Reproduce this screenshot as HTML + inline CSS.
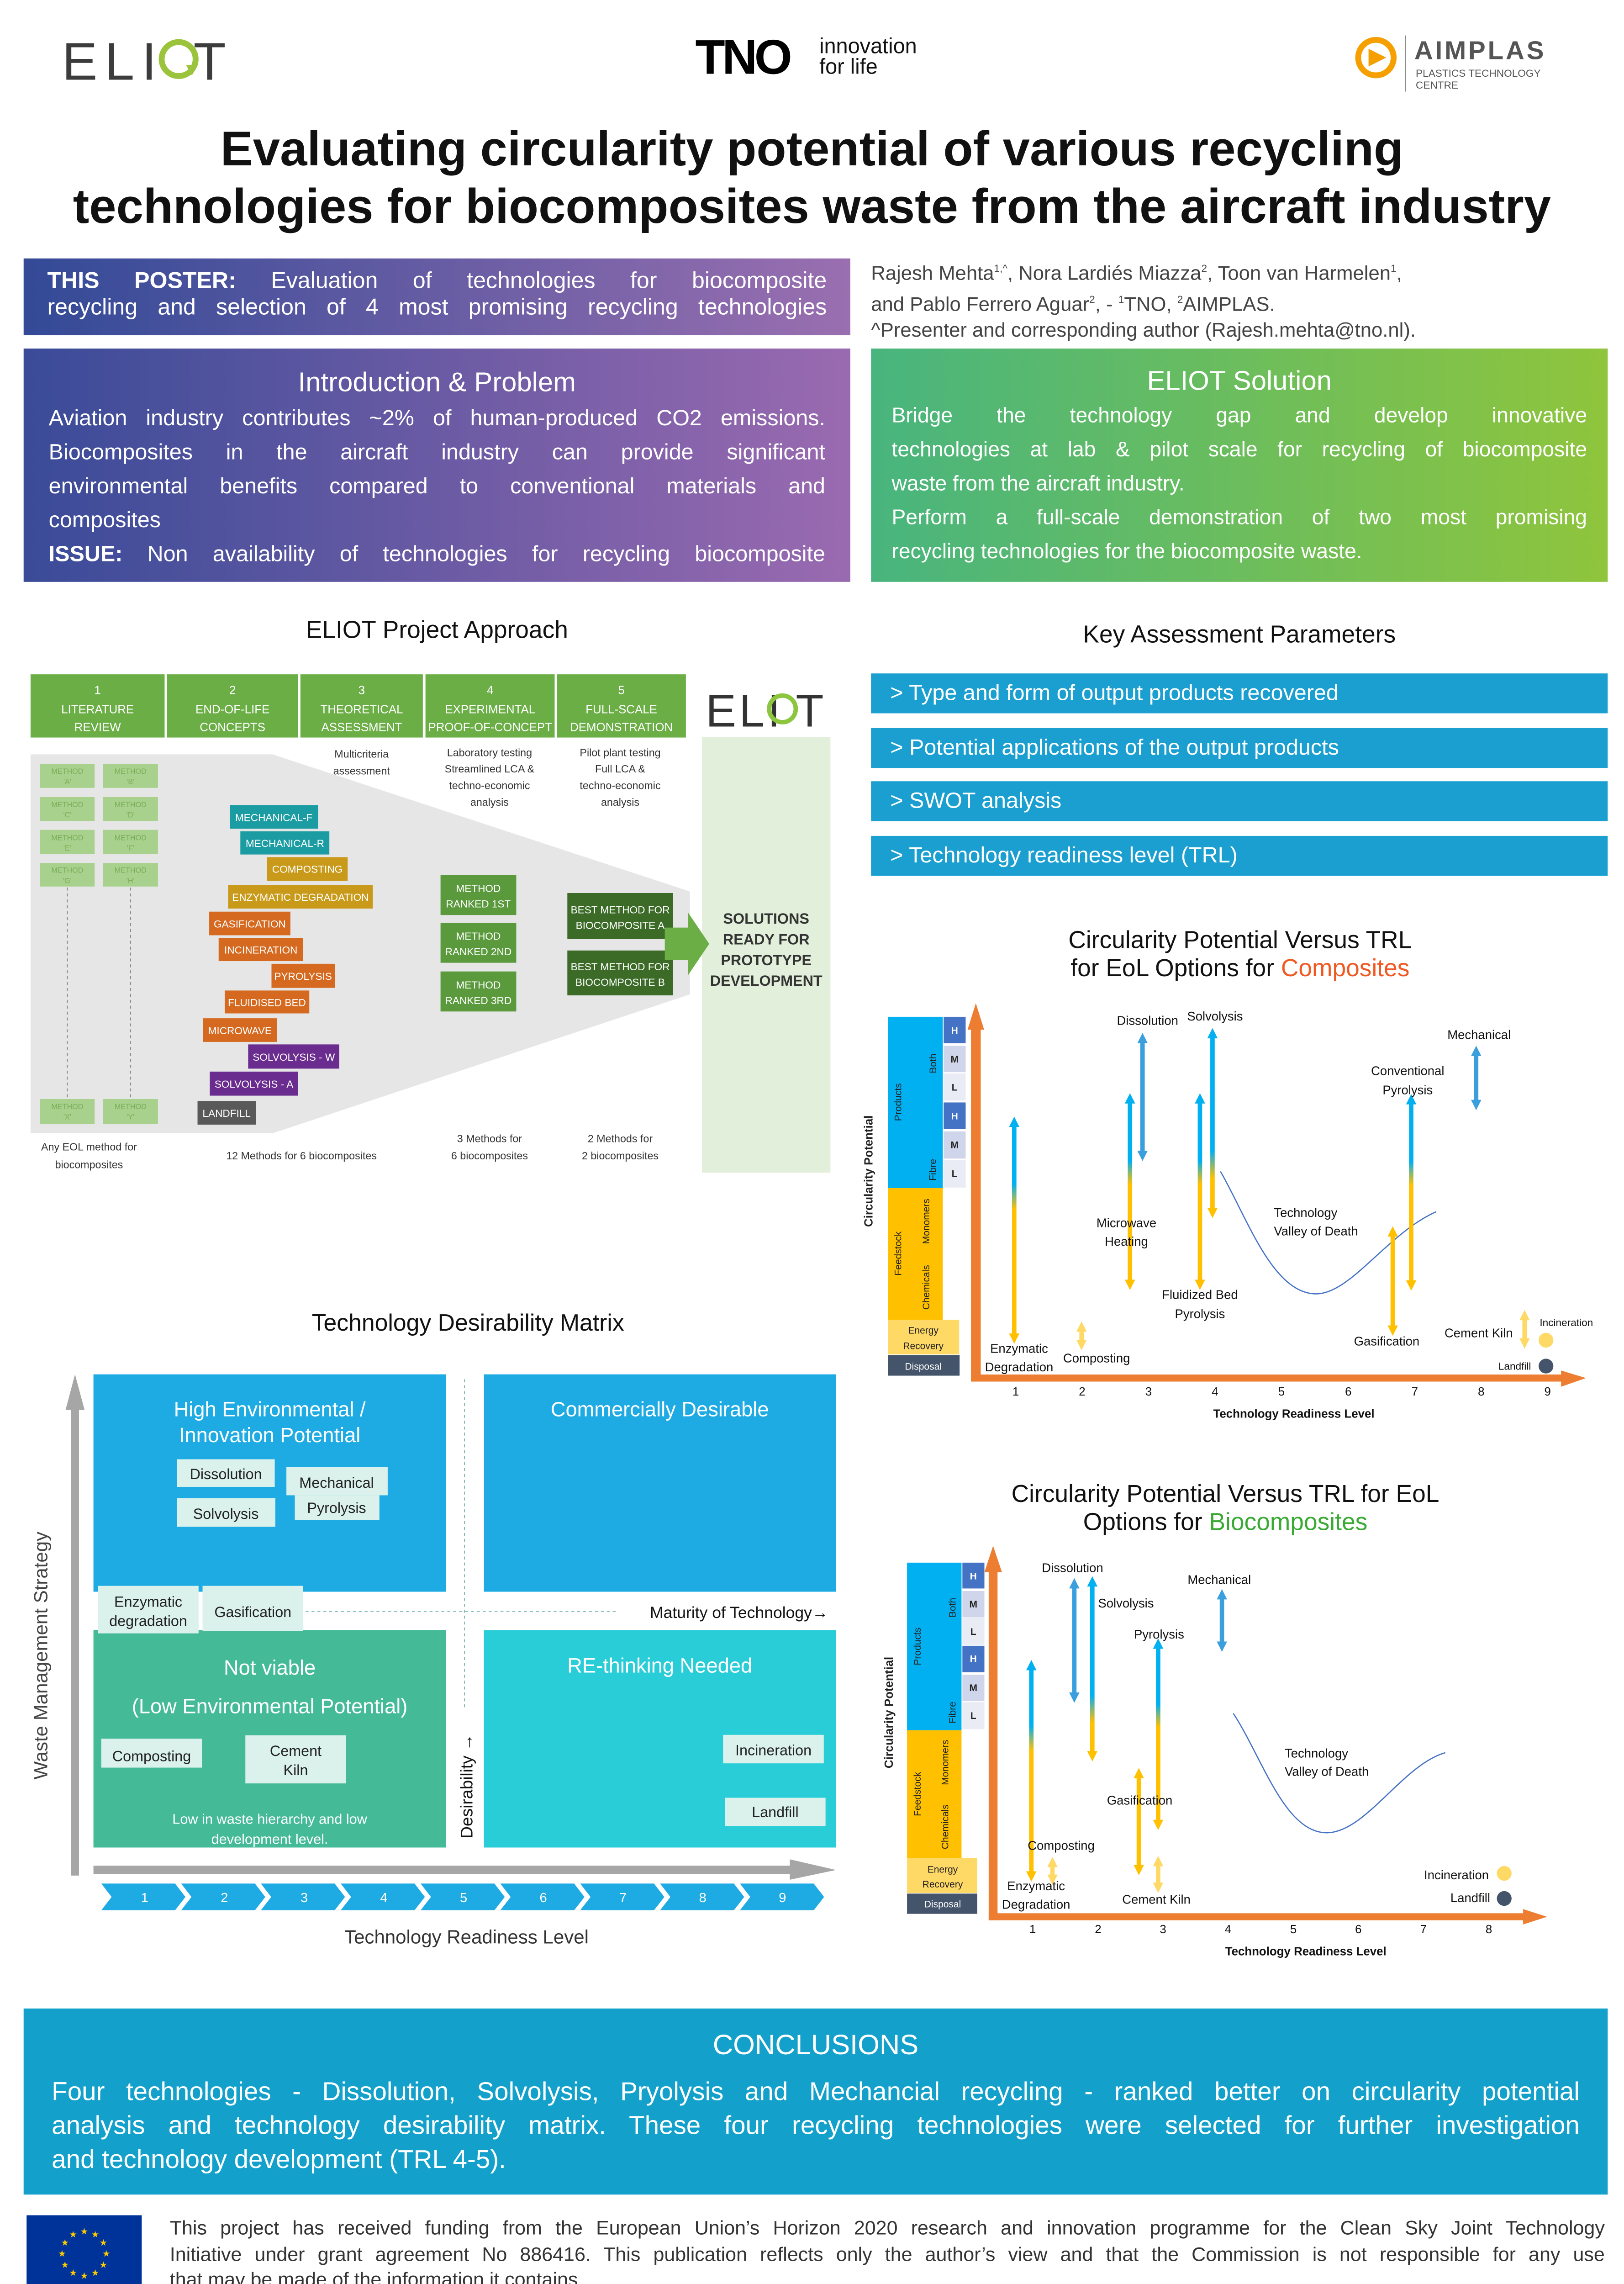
<!DOCTYPE html>
<html><head><meta charset="utf-8">
<style>
html,body{margin:0;padding:0;background:#fff;}
body{width:3556px;height:5028px;overflow:hidden;position:relative;}
#p{position:absolute;left:0;top:0;width:1100px;height:1555px;overflow:hidden;transform:scale(3.2326,3.2330);transform-origin:0 0;font-family:"Liberation Sans",sans-serif;}
.a{position:absolute;}
.j{display:block;text-align:justify;text-align-last:justify;}
.l{display:block;}
.box{position:absolute;color:#fff;box-sizing:border-box;}
.kp{position:absolute;left:590px;width:499px;height:27px;background:#1a9fd0;color:#fff;font-size:15px;line-height:27px;padding-left:13px;box-sizing:border-box;}
svg text{font-family:"Liberation Sans Narrow","Liberation Sans",sans-serif;}
</style></head><body><div id="p">

<div class="a" style="left:0;top:81px;width:1100px;text-align:center;font-weight:bold;font-size:33px;line-height:39px;color:#111;">Evaluating circularity potential of various recycling<br>technologies for biocomposites waste from the aircraft industry</div>

<div class="box" style="left:16px;top:175px;width:560px;height:52px;background:linear-gradient(90deg,#334a97,#9a6fb0);padding:7px 16px 0 16px;font-size:15.5px;line-height:18px;">
<span class="j"><b>THIS POSTER:</b> Evaluation of technologies for biocomposite</span>
<span class="j">recycling and selection of 4 most promising recycling technologies</span></div>

<div class="a" style="left:590px;top:174px;font-size:13.5px;line-height:18px;color:#444;">Rajesh Mehta<sup style="font-size:7px">1,^</sup>, Nora Lardiés Miazza<sup style="font-size:7px">2</sup>, Toon van Harmelen<sup style="font-size:7px">1</sup>,<br>and Pablo Ferrero Aguar<sup style="font-size:7px">2</sup>, - <sup style="font-size:7px">1</sup>TNO, <sup style="font-size:7px">2</sup>AIMPLAS.<br>^Presenter and corresponding author (Rajesh.mehta@tno.nl).</div>

<div class="box" style="left:16px;top:236px;width:560px;height:158px;background:linear-gradient(90deg,#3a4b98,#9a6ab0);padding:11px 17px 0 17px;font-size:15px;line-height:23px;">
<div style="text-align:center;font-size:18.5px;line-height:24px;margin-bottom:1px;">Introduction &amp; Problem</div>
<span class="j">Aviation industry contributes ~2% of human-produced CO2 emissions.</span>
<span class="j">Biocomposites in the aircraft industry can provide significant</span>
<span class="j">environmental benefits compared to conventional materials and</span>
<span class="l">composites</span>
<span class="j"><b>ISSUE:</b> Non availability of technologies for recycling biocomposite</span></div>

<div class="box" style="left:590px;top:236px;width:499px;height:158px;background:linear-gradient(90deg,#48b57e,#8fc53c);padding:10px 14px 0 14px;font-size:14.3px;line-height:23px;">
<div style="text-align:center;font-size:18.5px;line-height:24px;margin-bottom:1px;">ELIOT Solution</div>
<span class="j">Bridge the technology gap and develop innovative</span>
<span class="j">technologies at lab &amp; pilot scale for recycling of biocomposite</span>
<span class="l">waste from the aircraft industry.</span>
<span class="j">Perform a full-scale demonstration of two most promising</span>
<span class="l">recycling technologies for the biocomposite waste.</span></div>

<div class="a" style="left:0;top:418px;width:592px;text-align:center;font-size:16.5px;color:#111;">ELIOT Project Approach</div>
<div class="a" style="left:590px;top:421px;width:499px;text-align:center;font-size:16.5px;color:#111;">Key Assessment Parameters</div>
<div class="kp" style="top:456px;">&gt; Type and form of output products recovered</div>
<div class="kp" style="top:493px;">&gt; Potential applications of the output products</div>
<div class="kp" style="top:529px;">&gt; SWOT analysis</div>
<div class="kp" style="top:566px;">&gt; Technology readiness level (TRL)</div>

<div class="a" style="left:0;top:888px;width:634px;text-align:center;font-size:16px;color:#111;">Technology Desirability Matrix</div>

<div class="a" style="left:590px;top:628px;width:500px;text-align:center;font-size:16.5px;line-height:19px;color:#111;">Circularity Potential Versus TRL<br>for EoL Options for <span style="color:#f05a22">Composites</span></div>
<div class="a" style="left:580px;top:1003px;width:500px;text-align:center;font-size:16.5px;line-height:19px;color:#111;">Circularity Potential Versus TRL for EoL<br>Options for <span style="color:#3aaa35">Biocomposites</span></div>

<div class="box" style="left:16px;top:1360px;width:1073px;height:126px;background:#13a0cb;padding:14px 19px 0 19px;font-size:17.5px;line-height:23px;">
<div style="text-align:center;font-size:19px;line-height:24px;margin-bottom:7px;">CONCLUSIONS</div>
<span class="j">Four technologies - Dissolution, Solvolysis, Pryolysis and Mechancial recycling - ranked better on circularity potential</span>
<span class="j">analysis and technology desirability matrix. These four recycling technologies were selected for further investigation</span>
<span class="l">and technology development (TRL 4-5).</span></div>

<div class="a" style="left:115px;top:1500px;width:972px;font-size:13.3px;line-height:17.5px;color:#333;">
<span class="j">This project has received funding from the European Union’s Horizon 2020 research and innovation programme for the Clean Sky Joint Technology</span>
<span class="j">Initiative under grant agreement No 886416. This publication reflects only the author’s view and that the Commission is not responsible for any use</span>
<span class="l">that may be made of the information it contains.</span></div>

<svg class="a" style="left:0;top:0" width="1100" height="1555" viewBox="0 0 1100 1555">
<defs>
<linearGradient id="g1" x1="0" y1="0" x2="0" y2="1"><stop offset="0" stop-color="#00b0f0"/><stop offset="0.28" stop-color="#00b0f0"/><stop offset="0.34" stop-color="#7fb87a"/><stop offset="0.40" stop-color="#ffc000"/><stop offset="1" stop-color="#ffc000"/></linearGradient>
<linearGradient id="g3" x1="0" y1="0" x2="0" y2="1"><stop offset="0" stop-color="#00b0f0"/><stop offset="0.33" stop-color="#00b0f0"/><stop offset="0.39" stop-color="#7fb87a"/><stop offset="0.46" stop-color="#ffc000"/><stop offset="1" stop-color="#ffc000"/></linearGradient>
<linearGradient id="g6" x1="0" y1="0" x2="0" y2="1"><stop offset="0" stop-color="#00b0f0"/><stop offset="0.66" stop-color="#00b0f0"/><stop offset="0.74" stop-color="#7fb87a"/><stop offset="0.82" stop-color="#ffc000"/><stop offset="1" stop-color="#ffc000"/></linearGradient>
</defs>

<g fill="#3c3c3c">
<text x="42" y="54" font-size="36" letter-spacing="5" style="font-family:'Liberation Sans'">ELI</text>
<text x="131" y="54" font-size="36" style="font-family:'Liberation Sans'">T</text>
</g>
<circle cx="121" cy="40" r="11.5" fill="none" stroke="#9bc43c" stroke-width="4"/>
<polygon points="126,44 134,44 130,51" fill="#9bc43c"/>
<text x="471" y="50" font-size="33" font-weight="bold" fill="#000" letter-spacing="-2" style="font-family:'Liberation Sans';font-weight:900">TNO</text>
<text x="555" y="36" font-size="14.5" fill="#111" style="font-family:'Liberation Sans'">innovation</text>
<text x="555" y="50" font-size="14.5" fill="#111" style="font-family:'Liberation Sans'">for life</text>
<circle cx="932" cy="39" r="12" fill="none" stroke="#f5a000" stroke-width="4"/>
<polygon points="927,33 939,39 927,45" fill="#f5a000"/>
<line x1="952" y1="24" x2="952" y2="62" stroke="#888" stroke-width="0.6"/>
<text x="958" y="40" font-size="17.5" font-weight="bold" fill="#555" letter-spacing="1.5" style="font-family:'Liberation Sans'">AIMPLAS</text>
<text x="959" y="52" font-size="7" fill="#555">PLASTICS TECHNOLOGY</text>
<text x="959" y="60" font-size="7" fill="#555">CENTRE</text>

<rect x="18" y="1500" width="78" height="52" fill="#003399"/>
<g fill="#ffcc00" font-size="6" text-anchor="middle" style="font-family:'DejaVu Sans'">
<text x="57" y="1513">★</text><text x="64.5" y="1515">★</text><text x="70" y="1520.5">★</text><text x="72" y="1528">★</text><text x="70" y="1535.5">★</text><text x="64.5" y="1541">★</text><text x="57" y="1543">★</text><text x="49.5" y="1541">★</text><text x="44" y="1535.5">★</text><text x="42" y="1528">★</text><text x="44" y="1520.5">★</text><text x="49.5" y="1515">★</text></g>

<g font-size="8" fill="#fff" text-anchor="middle">
<rect x="20.7" y="456.6" width="90.8" height="42.8" fill="#6aae45"/>
<rect x="113" y="456.6" width="89" height="42.8" fill="#6aae45"/>
<rect x="203.5" y="456.6" width="82.9" height="42.8" fill="#6aae45"/>
<rect x="288.2" y="456.6" width="87.5" height="42.8" fill="#6aae45"/>
<rect x="377.2" y="456.6" width="87.4" height="42.8" fill="#6aae45"/>
<text x="66.1" y="470">1</text><text x="66.1" y="483">LITERATURE</text><text x="66.1" y="495">REVIEW</text>
<text x="157.5" y="470">2</text><text x="157.5" y="483">END-OF-LIFE</text><text x="157.5" y="495">CONCEPTS</text>
<text x="245" y="470">3</text><text x="245" y="483">THEORETICAL</text><text x="245" y="495">ASSESSMENT</text>
<text x="332" y="470">4</text><text x="332" y="483">EXPERIMENTAL</text><text x="332" y="495">PROOF-OF-CONCEPT</text>
<text x="420.9" y="470">5</text><text x="420.9" y="483">FULL-SCALE</text><text x="420.9" y="495">DEMONSTRATION</text>
</g>
<rect x="475.5" y="499" width="87" height="295" fill="#e2efda"/>
<text x="478" y="492" font-size="31" fill="#333" letter-spacing="2" style="font-family:'Liberation Sans'">ELI</text>
<text x="539" y="492" font-size="31" fill="#333" style="font-family:'Liberation Sans'">T</text>
<circle cx="530" cy="480" r="9" fill="none" stroke="#8cc63e" stroke-width="3"/>
<polygon points="20.7,510.8 184.6,510.8 467.3,603.6 467.3,673.3 184.6,767.4 20.7,767.4" fill="#e7e6e6"/>
<g fill="#a9d18e">
<rect x="27.1" y="517.2" width="37" height="16.3"/><rect x="69.7" y="517.2" width="37.3" height="16.3"/>
<rect x="27.1" y="539.7" width="37" height="16.2"/><rect x="69.7" y="539.7" width="37.3" height="16.2"/>
<rect x="27.1" y="561.9" width="37" height="16.5"/><rect x="69.7" y="561.9" width="37.3" height="16.5"/>
<rect x="27.1" y="584.3" width="37" height="16"/><rect x="69.7" y="584.3" width="37.3" height="16"/>
<rect x="27.1" y="744.2" width="37" height="16.8"/><rect x="69.7" y="744.2" width="37.3" height="16.8"/>
</g>
<g fill="#79ad57" font-size="5" text-anchor="middle">
<text x="45.6" y="524">METHOD</text><text x="45.6" y="531">'A'</text><text x="88.4" y="524">METHOD</text><text x="88.4" y="531">'B'</text>
<text x="45.6" y="546.5">METHOD</text><text x="45.6" y="553.5">'C'</text><text x="88.4" y="546.5">METHOD</text><text x="88.4" y="553.5">'D'</text>
<text x="45.6" y="569">METHOD</text><text x="45.6" y="576">'E'</text><text x="88.4" y="569">METHOD</text><text x="88.4" y="576">'F'</text>
<text x="45.6" y="591">METHOD</text><text x="45.6" y="598">'G'</text><text x="88.4" y="591">METHOD</text><text x="88.4" y="598">'H'</text>
<text x="45.6" y="751">METHOD</text><text x="45.6" y="758">'X'</text><text x="88.4" y="751">METHOD</text><text x="88.4" y="758">'Y'</text>
</g>
<line x1="45.6" y1="601" x2="45.6" y2="744" stroke="#888" stroke-width="0.6" stroke-dasharray="2,2"/>
<line x1="88.4" y1="601" x2="88.4" y2="744" stroke="#888" stroke-width="0.6" stroke-dasharray="2,2"/>
<g font-size="7" fill="#fff" text-anchor="middle">
<rect x="155.6" y="545.1" width="59.9" height="16" fill="#1b9ca3"/><text x="185.5" y="556">MECHANICAL-F</text>
<rect x="162.8" y="562.9" width="60.3" height="15.7" fill="#1b9ca3"/><text x="193" y="573.5">MECHANICAL-R</text>
<rect x="180.9" y="580.4" width="54.6" height="16" fill="#c99a1a"/><text x="208.2" y="591">COMPOSTING</text>
<rect x="154.5" y="599.2" width="98" height="16" fill="#c99a1a"/><text x="203.5" y="610">ENZYMATIC DEGRADATION</text>
<rect x="141.7" y="617.3" width="55" height="16" fill="#d4691f"/><text x="169.2" y="628">GASIFICATION</text>
<rect x="148.1" y="635.1" width="57.3" height="15.7" fill="#d4691f"/><text x="176.7" y="645.7">INCINERATION</text>
<rect x="183.9" y="652.6" width="42.9" height="16.3" fill="#d4691f"/><text x="205.3" y="663.5">PYROLYSIS</text>
<rect x="152.2" y="670.7" width="57.3" height="15.5" fill="#d4691f"/><text x="180.8" y="681.2">FLUIDISED BED</text>
<rect x="137.5" y="689.5" width="50.1" height="16" fill="#d4691f"/><text x="162.5" y="700.3">MICROWAVE</text>
<rect x="168.1" y="707.2" width="61.7" height="16.4" fill="#6a2d8f"/><text x="199" y="718.2">SOLVOLYSIS - W</text>
<rect x="142.1" y="725.6" width="59.9" height="16.3" fill="#6a2d8f"/><text x="172" y="736.5">SOLVOLYSIS - A</text>
<rect x="133.8" y="745.5" width="39.5" height="16" fill="#595959"/><text x="153.5" y="756.3">LANDFILL</text>
<rect x="298.4" y="592.5" width="51.3" height="27.1" fill="#5a9a3c"/><text x="324" y="604">METHOD</text><text x="324" y="614.5">RANKED 1ST</text>
<rect x="298.4" y="624.8" width="51.3" height="27.1" fill="#5a9a3c"/><text x="324" y="636.3">METHOD</text><text x="324" y="646.8">RANKED 2ND</text>
<rect x="298.4" y="657.8" width="51.3" height="27.1" fill="#5a9a3c"/><text x="324" y="669.3">METHOD</text><text x="324" y="679.8">RANKED 3RD</text>
<rect x="384.3" y="604.7" width="71.6" height="31.2" fill="#3b6b27"/><text x="420.1" y="618.5">BEST METHOD FOR</text><text x="420.1" y="629">BIOCOMPOSITE A</text>
<rect x="384.3" y="643.6" width="71.6" height="30.4" fill="#3b6b27"/><text x="420.1" y="657">BEST METHOD FOR</text><text x="420.1" y="667.5">BIOCOMPOSITE B</text>
</g>
<polygon points="450.3,628.1 466,628.1 466,617.8 480.4,639.1 466,660.4 466,650.1 450.3,650.1" fill="#6aae45"/>
<g font-size="10" font-weight="bold" fill="#333" text-anchor="middle">
<text x="519" y="625.5">SOLUTIONS</text><text x="519" y="639.5">READY FOR</text><text x="519" y="653.5">PROTOTYPE</text><text x="519" y="667.5">DEVELOPMENT</text></g>
<g font-size="7.2" fill="#333" text-anchor="middle">
<text x="244.9" y="513">Multicriteria</text><text x="244.9" y="524.5">assessment</text>
<text x="331.6" y="512">Laboratory testing</text><text x="331.6" y="523">Streamlined LCA &amp;</text><text x="331.6" y="534.3">techno-economic</text><text x="331.6" y="545.6">analysis</text>
<text x="420.1" y="512">Pilot plant testing</text><text x="420.1" y="523">Full LCA &amp;</text><text x="420.1" y="534.3">techno-economic</text><text x="420.1" y="545.6">analysis</text>
<text x="60.3" y="779">Any EOL method for</text><text x="60.3" y="791">biocomposites</text>
<text x="204.2" y="785">12 Methods for 6 biocomposites</text>
<text x="331.6" y="773.5">3 Methods for</text><text x="331.6" y="785">6 biocomposites</text>
<text x="420.1" y="773.5">2 Methods for</text><text x="420.1" y="785">2 biocomposites</text>
</g>

<rect x="63.3" y="930.6" width="238.9" height="147.2" fill="#1eabe3"/>
<rect x="327.8" y="930.6" width="238.5" height="147.2" fill="#1eabe3"/>
<rect x="63.3" y="1103.7" width="238.9" height="147.3" fill="#44bb96"/>
<rect x="327.8" y="1103.7" width="238.5" height="147.3" fill="#29cdd8"/>
<line x1="314.6" y1="934" x2="314.6" y2="1158" stroke="#6aa" stroke-width="0.5" stroke-dasharray="2,2"/>
<line x1="207" y1="1091.3" x2="418" y2="1091.3" stroke="#6aa" stroke-width="0.5" stroke-dasharray="2,2"/>
<polygon points="50.8,930.6 57.3,954.7 53.5,954.7 53.5,1270 48.2,1270 48.2,954.7 44.4,954.7" fill="#a6a6a6"/>
<polygon points="63.3,1263.3 535,1263.3 535,1259 566.3,1266.2 535,1272.8 535,1269.1 63.3,1269.1" fill="#a6a6a6"/>
<g fill="#1eabe3">
<polygon points="68.6,1275.4 118.6,1275.4 125.6,1284.5 118.6,1293.5 68.6,1293.5 75.6,1284.5"/>
<polygon points="122.7,1275.4 172.7,1275.4 179.7,1284.5 172.7,1293.5 122.7,1293.5 129.7,1284.5"/>
<polygon points="176.7,1275.4 226.7,1275.4 233.7,1284.5 226.7,1293.5 176.7,1293.5 183.7,1284.5"/>
<polygon points="230.8,1275.4 280.8,1275.4 287.8,1284.5 280.8,1293.5 230.8,1293.5 237.8,1284.5"/>
<polygon points="284.9,1275.4 334.9,1275.4 341.9,1284.5 334.9,1293.5 284.9,1293.5 291.9,1284.5"/>
<polygon points="338.9,1275.4 388.9,1275.4 395.9,1284.5 388.9,1293.5 338.9,1293.5 345.9,1284.5"/>
<polygon points="393,1275.4 443,1275.4 450,1284.5 443,1293.5 393,1293.5 400,1284.5"/>
<polygon points="447.1,1275.4 497.1,1275.4 504.1,1284.5 497.1,1293.5 447.1,1293.5 454.1,1284.5"/>
<polygon points="501.2,1275.4 551.2,1275.4 558.2,1284.5 551.2,1293.5 501.2,1293.5 508.2,1284.5"/>
</g>
<g fill="#fff" font-size="9" text-anchor="middle">
<text x="98" y="1288">1</text><text x="152" y="1288">2</text><text x="206" y="1288">3</text><text x="260" y="1288">4</text><text x="314" y="1288">5</text><text x="368" y="1288">6</text><text x="422" y="1288">7</text><text x="476" y="1288">8</text><text x="530" y="1288">9</text>
</g>
<g fill="#daf2eb">
<rect x="119.8" y="988.1" width="66.3" height="18.7"/><rect x="119.8" y="1014.5" width="66.7" height="19.3"/>
<rect x="194" y="993.5" width="68.6" height="19"/><rect x="199.7" y="1012.5" width="57.3" height="16.7"/>
<rect x="66.3" y="1073.8" width="68.2" height="32.2"/><rect x="137.2" y="1073.8" width="68.2" height="30.5"/>
<rect x="68.6" y="1177.3" width="68.2" height="19.6"/><rect x="166.2" y="1175" width="68.2" height="32.6"/>
<rect x="489.8" y="1174.7" width="68.2" height="19.3"/><rect x="491" y="1217.3" width="68.2" height="19.3"/>
</g>
<g fill="#222" font-size="10" text-anchor="middle">
<text x="153" y="1001.5">Dissolution</text><text x="153" y="1028.5">Solvolysis</text>
<text x="228" y="1007.5">Mechanical</text><text x="228" y="1024.5">Pyrolysis</text>
<text x="100.4" y="1088">Enzymatic</text><text x="100.4" y="1101">degradation</text>
<text x="171.3" y="1095">Gasification</text><text x="102.7" y="1192.5">Composting</text>
<text x="200.3" y="1189">Cement</text><text x="200.3" y="1202">Kiln</text>
<text x="523.9" y="1188.5">Incineration</text><text x="525.1" y="1230.5">Landfill</text>
</g>
<g fill="#fff" font-size="14" text-anchor="middle">
<text x="182.7" y="959">High Environmental /</text><text x="182.7" y="976.5">Innovation Potential</text>
<text x="446.9" y="959">Commercially Desirable</text>
<text x="182.7" y="1134">Not viable</text><text x="182.7" y="1160">(Low Environmental Potential)</text>
<text x="446.9" y="1132.5">RE-thinking Needed</text>
<text x="182.7" y="1235" font-size="9.5">Low in waste hierarchy and low</text><text x="182.7" y="1248.5" font-size="9.5">development level.</text>
</g>
<text x="561" y="1095.5" font-size="11" fill="#111" text-anchor="end">Maturity of Technology→</text>
<text transform="translate(320,1209.5) rotate(-90)" font-size="11.5" fill="#111" text-anchor="middle" style="font-family:'Liberation Sans'">Desirability →</text>
<text transform="translate(32,1121) rotate(-90)" font-size="13" fill="#444" text-anchor="middle" style="font-family:'Liberation Sans'">Waste Management Strategy</text>
<text x="316" y="1316" font-size="13" fill="#333" text-anchor="middle">Technology Readiness Level</text>

<rect x="601.4" y="688.5" width="37.2" height="116" fill="#00b0f0"/>
<rect x="601.4" y="804.5" width="37.2" height="89.1" fill="#ffc000"/>
<rect x="601.4" y="893.6" width="48.3" height="23.5" fill="#ffd966"/>
<rect x="601.4" y="917.5" width="48.6" height="14" fill="#44546a"/>
<rect x="639.2" y="688.5" width="14.9" height="17.9" fill="#4472c4"/>
<rect x="639.2" y="708.1" width="14.9" height="17.9" fill="#cfd5ea"/>
<rect x="639.2" y="726.9" width="14.9" height="18.3" fill="#e9ebf5"/>
<rect x="639.2" y="746.5" width="14.9" height="17.9" fill="#4472c4"/>
<rect x="639.2" y="766.1" width="14.9" height="18.4" fill="#cfd5ea"/>
<rect x="639.2" y="785.6" width="14.9" height="18.5" fill="#e9ebf5"/>
<g font-size="6.5" text-anchor="middle" font-weight="bold">
<text x="646.6" y="700" fill="#fff">H</text><text x="646.6" y="719.5" fill="#222">M</text><text x="646.6" y="738.5" fill="#222">L</text>
<text x="646.6" y="758" fill="#fff">H</text><text x="646.6" y="777.5" fill="#222">M</text><text x="646.6" y="797" fill="#222">L</text></g>
<g font-size="6.5" fill="#222" text-anchor="middle" style="font-family:'Liberation Sans'">
<text transform="translate(610.5,746.3) rotate(-90)">Products</text>
<text transform="translate(634.2,720.1) rotate(-90)">Both</text>
<text transform="translate(634,792.1) rotate(-90)">Fibre</text>
<text transform="translate(610.5,848.8) rotate(-90)">Feedstock</text>
<text transform="translate(629.5,827) rotate(-90)">Monomers</text>
<text transform="translate(629.5,871.7) rotate(-90)">Chemicals</text>
<text transform="translate(591,793) rotate(-90)" font-size="8" font-weight="bold">Circularity Potential</text>
</g>
<g font-size="6.5" text-anchor="middle"><text x="625.4" y="903" fill="#222">Energy</text><text x="625.4" y="913.5" fill="#222">Recovery</text><text x="625.4" y="927.5" fill="#fff">Disposal</text></g>
<polygon points="661,679.3 666.6,697.2 664.3,697.2 664.3,935.5 657.7,935.5 657.7,697.2 655.4,697.2" fill="#ed7d31"/>
<polygon points="657.7,930.7 1057.4,930.7 1057.4,928 1074.3,933.1 1057.4,939 1057.4,935.5 657.7,935.5" fill="#ed7d31"/>
<g font-size="8" fill="#111" text-anchor="middle">
<text x="688" y="945">1</text><text x="733" y="945">2</text><text x="778" y="945">3</text><text x="823" y="945">4</text><text x="868" y="945">5</text><text x="913.3" y="945">6</text><text x="958.3" y="945">7</text><text x="1003.3" y="945">8</text><text x="1048.3" y="945">9</text>
<text x="876.4" y="960" font-weight="bold">Technology Readiness Level</text>
</g>
<path d="M826.7,793.2 C845,825 862,876 891.6,876.1 C915,876 940,835 972.8,820.5" fill="none" stroke="#4472c4" stroke-width="0.8"/>
<polygon points="687,756.1 683.5,763.1 690.5,763.1" fill="#00b0f0"/><rect x="685.5" y="762" width="3" height="141.9" fill="url(#g1)"/><polygon points="687,909.9 683.5,902.9 690.5,902.9" fill="#ffc000"/>
<polygon points="732.6,894.7 729.1,901.7 736.1,901.7" fill="#ffd966"/><rect x="731.1" y="900.7" width="3" height="7.6" fill="#ffd966"/><polygon points="732.6,914.3 729.1,907.3 736.1,907.3" fill="#ffd966"/>
<polygon points="765.4,740.2 761.9,747.2 768.9,747.2" fill="#00b0f0"/><rect x="763.9" y="746.2" width="3" height="121.3" fill="url(#g3)"/><polygon points="765.4,873.5 761.9,866.5 768.9,866.5" fill="#ffc000"/>
<polygon points="773.9,699.4 770.4,706.4 777.4,706.4" fill="#3a9fdc"/><rect x="772.4" y="705.4" width="3" height="74.8" fill="#3a9fdc"/><polygon points="773.9,786.2 770.4,779.2 777.4,779.2" fill="#3a9fdc"/>
<polygon points="812.8,740.2 809.3,747.2 816.3,747.2" fill="#00b0f0"/><rect x="811.3" y="746.2" width="3" height="121.3" fill="url(#g3)"/><polygon points="812.8,873.5 809.3,866.5 816.3,866.5" fill="#ffc000"/>
<polygon points="821.3,696.1 817.8,703.1 824.8,703.1" fill="#00b0f0"/><rect x="819.8" y="702.1" width="3" height="116.7" fill="url(#g6)"/><polygon points="821.3,824.8 817.8,817.8 824.8,817.8" fill="#ffc000"/>
<polygon points="943.4,830.3 939.9,837.3 946.9,837.3" fill="#ffc000"/><rect x="941.9" y="836.3" width="3" height="62.2" fill="#ffc000"/><polygon points="943.4,904.5 939.9,897.5 946.9,897.5" fill="#ffc000"/>
<polygon points="955.9,740.8 952.4,747.8 959.4,747.8" fill="#00b0f0"/><rect x="954.4" y="746.8" width="3" height="121.1" fill="url(#g3)"/><polygon points="955.9,873.9 952.4,866.9 959.4,866.9" fill="#ffc000"/>
<polygon points="999.9,708.1 996.4,715.1 1003.4,715.1" fill="#3a9fdc"/><rect x="998.4" y="714.1" width="3" height="31.6" fill="#3a9fdc"/><polygon points="999.9,751.7 996.4,744.7 1003.4,744.7" fill="#3a9fdc"/>
<polygon points="1032.7,887 1029.2,894 1036.2,894" fill="#ffd966"/><rect x="1031.2" y="893" width="3" height="14.2" fill="#ffd966"/><polygon points="1032.7,913.2 1029.2,906.2 1036.2,906.2" fill="#ffd966"/>
<circle cx="1047.2" cy="907.5" r="5" fill="#ffd966"/><circle cx="1047.2" cy="925" r="5" fill="#44546a"/>
<g font-size="8.5" fill="#111" text-anchor="middle">
<text x="777.3" y="694">Dissolution</text><text x="823" y="691">Solvolysis</text><text x="1001.9" y="703.5">Mechanical</text>
<text x="953.5" y="728">Conventional</text><text x="953.5" y="741">Pyrolysis</text>
<text x="763" y="831">Microwave</text><text x="763" y="843.5">Heating</text>
<text x="862.9" y="824" text-anchor="start">Technology</text><text x="862.9" y="836.5" text-anchor="start">Valley of Death</text>
<text x="812.8" y="879.5">Fluidized Bed</text><text x="812.8" y="892.5">Pyrolysis</text>
<text x="939.3" y="911">Gasification</text><text x="1001.6" y="905.5">Cement Kiln</text>
<text x="1061" y="898" font-size="7">Incineration</text><text x="1026" y="927.5" font-size="7">Landfill</text>
<text x="690.3" y="916">Enzymatic</text><text x="690.3" y="928.5">Degradation</text><text x="742.8" y="922.5">Composting</text>
</g>

<rect x="614.4" y="1058.1" width="36.9" height="113.5" fill="#00b0f0"/>
<rect x="614.4" y="1171.6" width="36.9" height="86.6" fill="#ffc000"/>
<rect x="614.4" y="1258.2" width="47.6" height="23.6" fill="#ffd966"/>
<rect x="614.4" y="1282.2" width="47.6" height="13.7" fill="#44546a"/>
<rect x="651.9" y="1058.1" width="14.9" height="17.5" fill="#4472c4"/>
<rect x="651.9" y="1077.3" width="14.9" height="17.9" fill="#cfd5ea"/>
<rect x="651.9" y="1095.6" width="14.9" height="18.1" fill="#e9ebf5"/>
<rect x="651.9" y="1114.4" width="14.9" height="17.9" fill="#4472c4"/>
<rect x="651.9" y="1134" width="14.9" height="17.9" fill="#cfd5ea"/>
<rect x="651.9" y="1152.6" width="14.9" height="18.3" fill="#e9ebf5"/>
<g font-size="6.5" text-anchor="middle" font-weight="bold">
<text x="659.3" y="1069.5" fill="#fff">H</text><text x="659.3" y="1088.5" fill="#222">M</text><text x="659.3" y="1107" fill="#222">L</text>
<text x="659.3" y="1125.5" fill="#fff">H</text><text x="659.3" y="1145" fill="#222">M</text><text x="659.3" y="1164" fill="#222">L</text></g>
<g font-size="6.5" fill="#222" text-anchor="middle" style="font-family:'Liberation Sans'">
<text transform="translate(623.6,1114.8) rotate(-90)">Products</text>
<text transform="translate(647.3,1088.6) rotate(-90)">Both</text>
<text transform="translate(647.3,1159.6) rotate(-90)">Fibre</text>
<text transform="translate(623.6,1214.8) rotate(-90)">Feedstock</text>
<text transform="translate(642.3,1193.4) rotate(-90)">Monomers</text>
<text transform="translate(642.3,1237) rotate(-90)">Chemicals</text>
<text transform="translate(604.8,1159.6) rotate(-90)" font-size="8" font-weight="bold">Circularity Potential</text>
</g>
<g font-size="6.5" text-anchor="middle"><text x="638.5" y="1268" fill="#222">Energy</text><text x="638.5" y="1278" fill="#222">Recovery</text><text x="638.5" y="1291.5" fill="#fff">Disposal</text></g>
<polygon points="672.7,1046.7 678.7,1064.6 675.7,1064.6 675.7,1300.3 669.7,1300.3 669.7,1064.6 666.8,1064.6" fill="#ed7d31"/>
<polygon points="669.7,1295.5 1031.7,1295.5 1031.7,1292.7 1048,1297.9 1031.7,1303.1 1031.7,1300.3 669.7,1300.3" fill="#ed7d31"/>
<g font-size="8" fill="#111" text-anchor="middle">
<text x="699.5" y="1309">1</text><text x="743.8" y="1309">2</text><text x="787.8" y="1309">3</text><text x="831.8" y="1309">4</text><text x="876.1" y="1309">5</text><text x="920.1" y="1309">6</text><text x="964.2" y="1309">7</text><text x="1008.5" y="1309">8</text>
<text x="884.5" y="1324" font-weight="bold">Technology Readiness Level</text>
</g>
<path d="M835.4,1160.2 C855,1190 870,1241 898.7,1241 C925,1241 950,1195 979,1186.8" fill="none" stroke="#4472c4" stroke-width="0.8"/>
<polygon points="698.6,1124 695.1,1131 702.1,1131" fill="#00b0f0"/><rect x="697.1" y="1130" width="3" height="138.1" fill="url(#g1)"/><polygon points="698.6,1274.1 695.1,1267.1 702.1,1267.1" fill="#ffc000"/>
<polygon points="712.9,1257.3 709.4,1264.3 716.4,1264.3" fill="#ffd966"/><rect x="711.4" y="1263.3" width="3" height="7" fill="#ffd966"/><polygon points="712.9,1276.3 709.4,1269.3 716.4,1269.3" fill="#ffd966"/>
<polygon points="727.7,1068.6 724.2,1075.6 731.2,1075.6" fill="#3a9fdc"/><rect x="726.2" y="1074.6" width="3" height="72.4" fill="#3a9fdc"/><polygon points="727.7,1153 724.2,1146 731.2,1146" fill="#3a9fdc"/>
<polygon points="739.9,1067.3 736.4,1074.3 743.4,1074.3" fill="#00b0f0"/><rect x="738.4" y="1073.3" width="3" height="113.4" fill="url(#g6)"/><polygon points="739.9,1192.7 736.4,1185.7 743.4,1185.7" fill="#ffc000"/>
<polygon points="771.4,1197.1 767.9,1204.1 774.9,1204.1" fill="#ffc000"/><rect x="769.9" y="1203.1" width="3" height="60.7" fill="#ffc000"/><polygon points="771.4,1269.8 767.9,1262.8 774.9,1262.8" fill="#ffc000"/>
<polygon points="784.5,1109.4 781,1116.4 788,1116.4" fill="#00b0f0"/><rect x="783" y="1115.4" width="3" height="117.8" fill="url(#g3)"/><polygon points="784.5,1239.2 781,1232.2 788,1232.2" fill="#ffc000"/>
<polygon points="784.5,1256.7 781,1263.7 788,1263.7" fill="#ffd966"/><rect x="783" y="1262.7" width="3" height="13.1" fill="#ffd966"/><polygon points="784.5,1281.8 781,1274.8 788,1274.8" fill="#ffd966"/>
<polygon points="827.7,1076 824.2,1083 831.2,1083" fill="#3a9fdc"/><rect x="826.2" y="1082" width="3" height="30.5" fill="#3a9fdc"/><polygon points="827.7,1118.5 824.2,1111.5 831.2,1111.5" fill="#3a9fdc"/>
<circle cx="1018.9" cy="1268.5" r="5" fill="#ffd966"/><circle cx="1018.9" cy="1285.5" r="5" fill="#44546a"/>
<g font-size="8.5" fill="#111" text-anchor="middle">
<text x="726.5" y="1064.5">Dissolution</text><text x="743.8" y="1088.5" text-anchor="start">Solvolysis</text>
<text x="825.9" y="1072.5">Mechanical</text><text x="785.1" y="1109.5">Pyrolysis</text>
<text x="870.2" y="1190" text-anchor="start">Technology</text><text x="870.2" y="1202.5" text-anchor="start">Valley of Death</text>
<text x="772" y="1222">Gasification</text><text x="718.8" y="1252.5">Composting</text>
<text x="701.8" y="1280">Enzymatic</text><text x="701.8" y="1292.5">Degradation</text>
<text x="783.3" y="1289">Cement Kiln</text>
<text x="1008.5" y="1272.5" text-anchor="end">Incineration</text><text x="1009.4" y="1288" text-anchor="end">Landfill</text>
</g>
</svg>
</div></body></html>
